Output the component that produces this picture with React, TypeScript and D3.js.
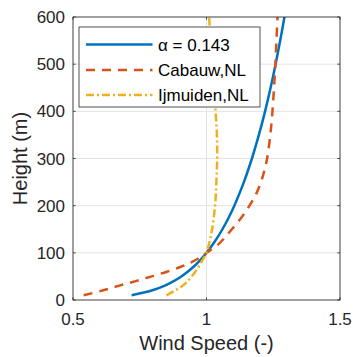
import React from "react";
import * as d3 from "d3";

const W = 353;
const H = 357;

const xTicks = [0.5, 1, 1.5];
const xTickLabels = ["0.5", "1", "1.5"];
const yTicks = [0, 100, 200, 300, 400, 500, 600];
const yTickLabels = ["0", "100", "200", "300", "400", "500", "600"];

const alphaHeights = [10, 20, 30, 40, 50, 60, 70, 80, 90, 100, 125, 150, 175, 200, 250, 300, 350, 400, 450, 500, 550, 600];
const alphaSpeeds = [0.7194, 0.7944, 0.8418, 0.8772, 0.9056, 0.9296, 0.9503, 0.9686, 0.985, 1.0, 1.0324, 1.0597, 1.0833, 1.1042, 1.14, 1.1701, 1.1962, 1.2193, 1.24, 1.2588, 1.276, 1.292];

const cabauwHeights = [10, 20, 30, 40, 50, 60, 70, 80, 90, 100, 115, 130, 150, 175, 200, 225, 250, 275, 300, 350, 400, 450, 500, 550, 600];
const cabauwSpeeds = [0.54, 0.61, 0.67, 0.735, 0.795, 0.852, 0.902, 0.943, 0.975, 1.0, 1.038, 1.065, 1.095, 1.131, 1.161, 1.186, 1.204, 1.217, 1.227, 1.239, 1.247, 1.253, 1.258, 1.262, 1.266];

const ijmuidenHeights = [10, 20, 30, 40, 60, 80, 100, 125, 150, 200, 250, 300, 350, 400, 450, 500, 550, 600];
const ijmuidenSpeeds = [0.85, 0.882, 0.91, 0.93, 0.958, 0.98, 1.0, 1.012, 1.021, 1.032, 1.037, 1.04, 1.039, 1.034, 1.028, 1.021, 1.015, 1.01];

const seriesNames = ["α = 0.143", "Cabauw,NL", "Ijmuiden,NL"];
const seriesColors = ["#0072BD", "#D95319", "#EDB120"];
const seriesDash = [null, "9,7", "8,3,2,3"];

const left = 73, right = 340, top = 17, bottom = 300;
const AX = "#262626";
const FONT = "Liberation Sans, Arial, Helvetica, sans-serif";

export default function App() {
  const x = d3.scaleLinear().domain([0.5, 1.5]).range([left, right]);
  const y = d3.scaleLinear().domain([0, 600]).range([bottom, top]);
  const line = d3
    .line<[number, number]>()
    .x((d) => x(d[0]))
    .y((d) => y(d[1]))
    .curve(d3.curveCatmullRom.alpha(0.5));

  const series = [
    d3.zip(alphaSpeeds, alphaHeights) as [number, number][],
    d3.zip(cabauwSpeeds, cabauwHeights) as [number, number][],
    d3.zip(ijmuidenSpeeds, ijmuidenHeights) as [number, number][],
  ];

  const tl = 2.7;
  const legX = 79, legY = 27, legW = 181, legH = 80;
  const rowY = [44.5, 70, 95];

  return (
    <svg width={W} height={H} style={{ position: "absolute", left: 0, top: 0, background: "#fff" }} fontFamily={FONT}>
      <rect x={0} y={0} width={W} height={H} fill="#fff" />
      <defs>
        <clipPath id="plotclip">
          <rect x={left} y={top} width={right - left} height={bottom - top} />
        </clipPath>
      </defs>
      {xTicks.map((t, i) => (
        <line key={"gx" + i} x1={x(t)} x2={x(t)} y1={top} y2={bottom} stroke="#e3e3e3" strokeWidth={1} />
      ))}
      {yTicks.map((t, i) => (
        <line key={"gy" + i} x1={left} x2={right} y1={y(t)} y2={y(t)} stroke="#e3e3e3" strokeWidth={1} />
      ))}
      <g clipPath="url(#plotclip)">
        {series.map((s, i) => (
          <path
            key={"s" + i}
            d={line(s) || ""}
            fill="none"
            stroke={seriesColors[i]}
            strokeWidth={2.5}
            strokeDasharray={seriesDash[i] || undefined}
          />
        ))}
      </g>
      <rect x={left} y={top} width={right - left} height={bottom - top} fill="none" stroke={AX} strokeWidth={0.8} />
      {xTicks.map((t, i) => (
        <g key={"tx" + i}>
          <line x1={x(t)} x2={x(t)} y1={bottom} y2={bottom - tl} stroke={AX} strokeWidth={0.8} />
          <line x1={x(t)} x2={x(t)} y1={top} y2={top + tl} stroke={AX} strokeWidth={0.8} />
          <text x={x(t)} y={325} textAnchor="middle" fontSize={17} fill={AX}>
            {xTickLabels[i]}
          </text>
        </g>
      ))}
      {yTicks.map((t, i) => (
        <g key={"ty" + i}>
          <line x1={left} x2={left + tl} y1={y(t)} y2={y(t)} stroke={AX} strokeWidth={0.8} />
          <line x1={right} x2={right - tl} y1={y(t)} y2={y(t)} stroke={AX} strokeWidth={0.8} />
          <text x={65} y={y(t)} dy="0.36em" textAnchor="end" fontSize={17} fill={AX}>
            {yTickLabels[i]}
          </text>
        </g>
      ))}
      <text x={(left + right) / 2} y={350} textAnchor="middle" fontSize={20} fill={AX}>
        Wind Speed (-)
      </text>
      <text
        transform={`translate(27,${(top + bottom) / 2}) rotate(-90)`}
        textAnchor="middle"
        fontSize={20}
        fill={AX}
      >
        Height (m)
      </text>
      <rect x={legX} y={legY} width={legW} height={legH} fill="#fff" stroke={AX} strokeWidth={0.8} />
      {seriesNames.map((n, i) => (
        <g key={"l" + i}>
          <line
            x1={86}
            x2={152.5}
            y1={rowY[i]}
            y2={rowY[i]}
            stroke={seriesColors[i]}
            strokeWidth={2.5}
            strokeDasharray={seriesDash[i] || undefined}
          />
          <text x={158} y={rowY[i]} dy="0.36em" fontSize={17} fill="#000">
            {n}
          </text>
        </g>
      ))}
    </svg>
  );
}
